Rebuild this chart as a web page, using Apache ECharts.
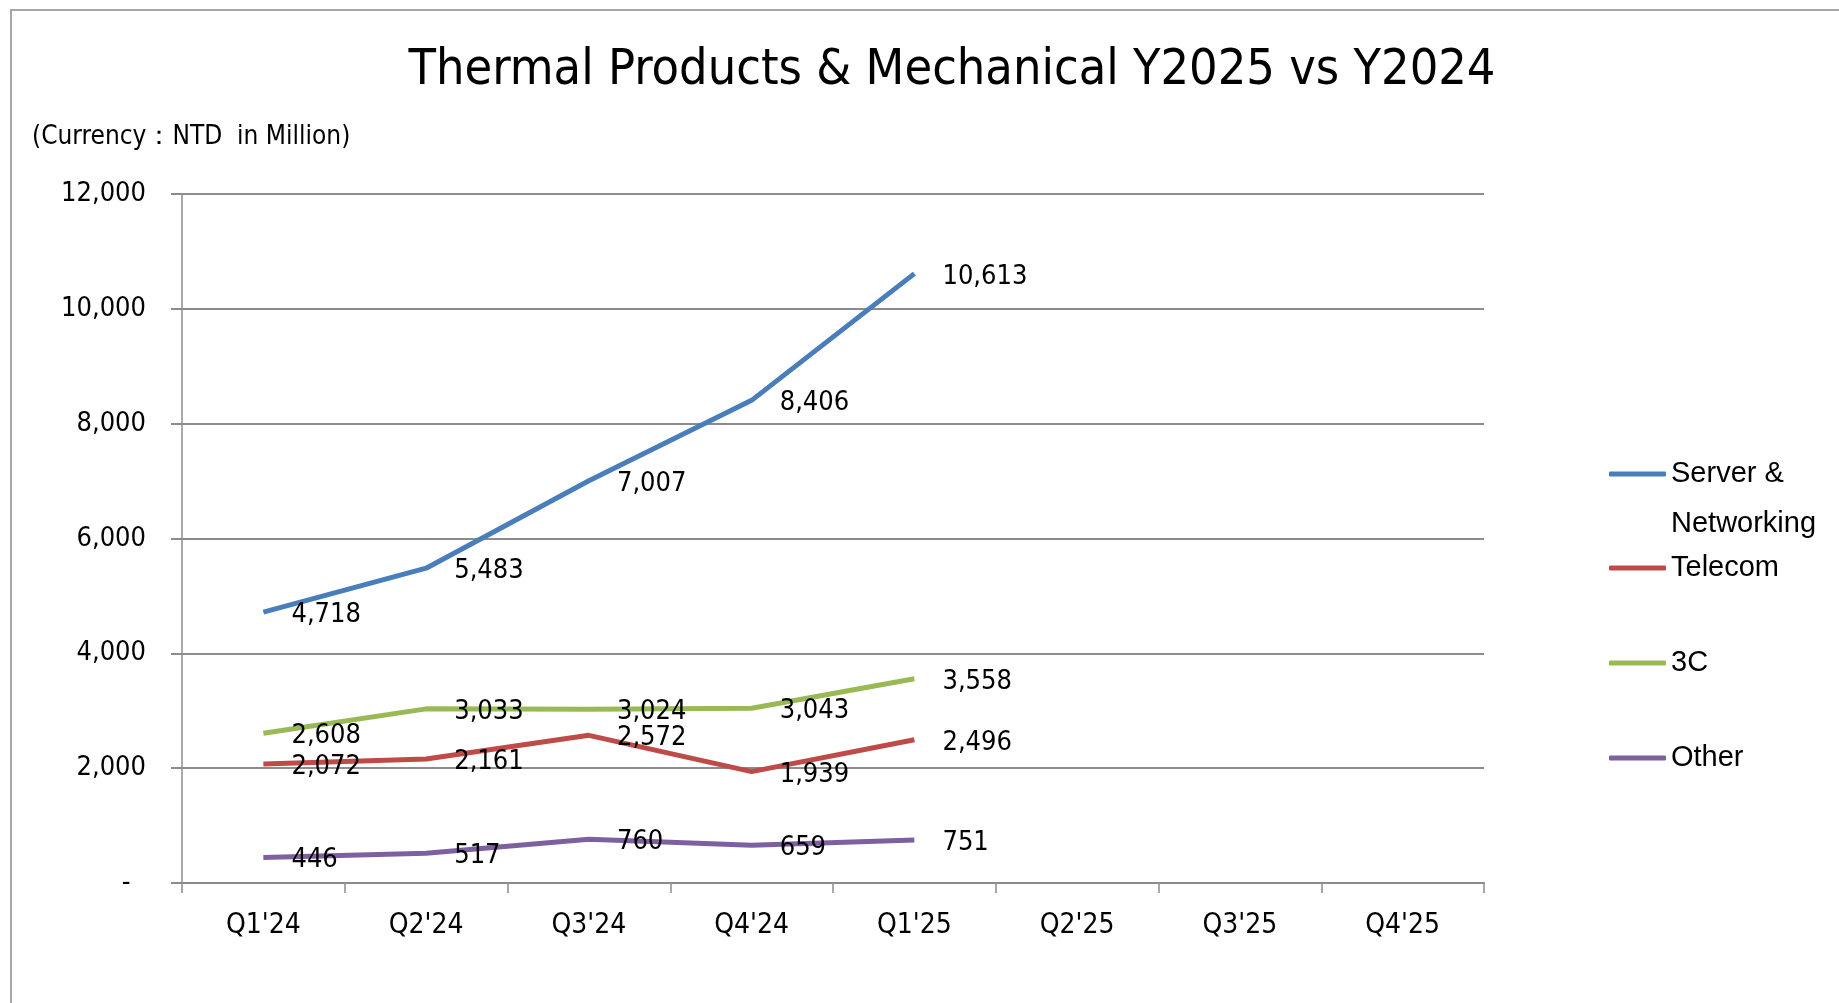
<!DOCTYPE html>
<html>
<head>
<meta charset="utf-8">
<script src="https://cdn.jsdelivr.net/npm/echarts@6/dist/echarts.min.js"></script>
<style>
  html, body { margin: 0; padding: 0; background: #fff; }
  #chart { width: 1839px; height: 1003px; }
</style>
</head>
<body>
<div id="chart"></div>
<script>
var quarters = ["Q1'24", "Q2'24", "Q3'24", "Q4'24", "Q1'25", "Q2'25", "Q3'25", "Q4'25"];
var serverNetworking = [4718, 5483, 7007, 8406, 10613];
var telecom = [2072, 2161, 2572, 1939, 2496];
var threeC = [2608, 3033, 3024, 3043, 3558];
var other = [446, 517, 760, 659, 751];

var narrow = '"DejaVu Sans Condensed", "Liberation Sans Narrow", sans-serif';
var sans = '"Liberation Sans", sans-serif';

function fmt(v) {
    return Number(v).toLocaleString('en-US');
}

function lineSeries(name, data, color) {
    return {
        name: name,
        type: 'line',
        data: data,
        symbol: 'circle',
        symbolSize: 0.1,
        lineStyle: { width: 5, color: color },
        itemStyle: { color: color },
        label: {
            show: true,
            position: 'right',
            distance: 28,
            offset: [0, 3],
            color: '#000',
            fontFamily: narrow,
            fontSize: 27,
            formatter: function (p) { return fmt(p.value); }
        },
        emphasis: { disabled: true },
        animation: false
    };
}

var chart = echarts.init(document.getElementById('chart'));
chart.setOption({
    backgroundColor: '#fff',
    title: [{
        text: 'Thermal Products & Mechanical Y2025 vs Y2024',
        left: 947,
        top: 41,
        textAlign: 'center',
        textStyle: { fontFamily: narrow, fontSize: 50, fontWeight: 'normal', color: '#000' }
    }, {
        text: '(Currency\uFF1ANTD  in Million)',
        left: 27,
        top: 119,
        textStyle: { fontFamily: narrow, fontSize: 26, fontWeight: 'normal', color: '#000' }
    }],
    graphic: [{
        type: 'rect',
        shape: { x: 11, y: 10, width: 2000, height: 2000 },
        style: { fill: 'none', stroke: '#a6a6a6', lineWidth: 2 },
        silent: true
    }],
    legend: [{
        orient: 'vertical',
        left: 1604,
        top: 394,
        icon: 'roundRect',
        itemWidth: 57,
        itemHeight: 5,
        data: ['Server & Networking'],
        formatter: function () { return ' \nServer &\nNetworking'; },
        textStyle: { fontFamily: sans, fontSize: 29, lineHeight: 50, color: '#000' }
    }, {
        orient: 'vertical',
        left: 1604,
        top: 547,
        icon: 'roundRect',
        itemWidth: 57,
        itemHeight: 5,
        itemGap: 63,
        data: ['Telecom', '3C', 'Other'],
        textStyle: { fontFamily: sans, fontSize: 29, lineHeight: 32, color: '#000' }
    }],
    grid: { left: 182, right: 355, top: 194, bottom: 120 },
    xAxis: {
        type: 'category',
        data: quarters,
        boundaryGap: true,
        axisLine: { lineStyle: { color: '#8c8c8c', width: 2 } },
        axisTick: { show: true, alignWithLabel: false, length: 10, lineStyle: { color: '#8c8c8c', width: 1.5 } },
        axisLabel: { margin: 29, color: '#000', fontFamily: narrow, fontSize: 28 }
    },
    yAxis: {
        type: 'value',
        min: 0,
        max: 12000,
        interval: 2000,
        axisLine: { show: true, lineStyle: { color: '#8c8c8c', width: 1.5 } },
        axisTick: { show: true, length: 11, lineStyle: { color: '#8c8c8c', width: 2 } },
        splitLine: { show: true, lineStyle: { color: '#8c8c8c', width: 2 } },
        axisLabel: {
            margin: 36,
            color: '#000',
            fontFamily: narrow,
            fontSize: 27,
            formatter: function (v) { return v === 0 ? '-  ' : fmt(v); }
        }
    },
    series: [
        lineSeries('Server & Networking', serverNetworking, '#4a7ebb'),
        lineSeries('Telecom', telecom, '#be4b48'),
        lineSeries('3C', threeC, '#98b954'),
        lineSeries('Other', other, '#7d60a0')
    ]
});
</script>
</body>
</html>
